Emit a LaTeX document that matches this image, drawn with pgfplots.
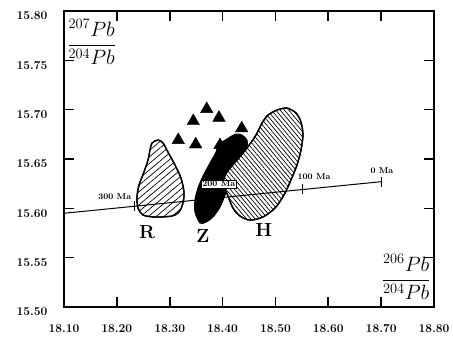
\documentclass[border=0pt]{standalone}
\usepackage{pgfplots}
\pgfplotsset{compat=1.18}
\usetikzlibrary{patterns.meta}
\begin{document}
\begin{tikzpicture}
\begin{axis}[
  scale only axis, width=370pt, height=296pt,
  xmin=18.10, xmax=18.80, ymin=15.50, ymax=15.80,
  xtick={18.1,18.2,18.3,18.4,18.5,18.6,18.7,18.8},
  xticklabels={18.10,18.20,18.30,18.40,18.50,18.60,18.70,18.80},
  ytick={15.50,15.55,15.60,15.65,15.70,15.75,15.80},
  yticklabels={15.50,15.55,15.60,15.65,15.70,15.75,15.80},
  tick align=inside, major tick length=10pt,
  every tick/.append style={black, line width=1.6pt},
  axis line style={line width=1.6pt},
  ticklabel style={font=\bfseries\fontsize{12}{14}\selectfont},
  yticklabel style={xshift=-13pt, yshift=-5pt},
  xticklabel style={yshift=-14pt},
  clip=false,
]
\coordinate (sw) at (rel axis cs:0,0);
% triangles
\addplot[only marks, mark=triangle*, mark size=7.2pt, black] coordinates {
 (18.370,15.7006) (18.3446,15.6884) (18.3932,15.6918) (18.3162,15.6692)
 (18.3491,15.6648) (18.4362,15.6811) (18.3951,15.6641)};
% Z field (solid)
\addplot[draw=black, fill=black, line width=1pt, smooth cycle] coordinates {
 (18.3573,15.5851) (18.3478,15.5963) (18.3478,15.6084) (18.3535,15.6206)
 (18.3630,15.6327) (18.3762,15.6459) (18.3876,15.6570) (18.3932,15.6662)
 (18.4027,15.6682) (18.4140,15.6722) (18.4254,15.6753) (18.4367,15.6743)
 (18.4462,15.6692) (18.4462,15.6621) (18.4386,15.6540) (18.4292,15.6459)
 (18.4197,15.6368) (18.4103,15.6236) (18.4046,15.6135) (18.3951,15.6013)
 (18.3819,15.5912) (18.3686,15.5861)};
% H field
\addplot[draw=black, line width=1.3pt, smooth cycle, preaction={fill=white},
  pattern={Lines[angle=-50,distance=3.3pt,line width=0.7pt]}] coordinates {
 (18.4859,15.6945) (18.5030,15.6996) (18.5219,15.7016) (18.5389,15.6966)
 (18.5484,15.6874) (18.5521,15.6743) (18.5484,15.6591) (18.5408,15.6439)
 (18.5294,15.6287) (18.5162,15.6135) (18.4992,15.6003) (18.4765,15.5912)
 (18.4519,15.5881) (18.4330,15.5922) (18.4197,15.6003) (18.4103,15.6125)
 (18.4008,15.6256) (18.4084,15.6368) (18.4273,15.6489) (18.4462,15.6611)
 (18.4632,15.6743) (18.4746,15.6864)};
% R field
\addplot[draw=black, line width=1.3pt, smooth cycle, preaction={fill=white},
  pattern={Lines[angle=40,distance=5pt,line width=0.7pt]}] coordinates {
 (18.2665,15.6662) (18.2778,15.6692) (18.2873,15.6662) (18.2967,15.6570)
 (18.3100,15.6439) (18.3213,15.6307) (18.3270,15.6165) (18.3251,15.6054)
 (18.3176,15.5963) (18.3043,15.5922) (18.2722,15.5912) (18.2495,15.5932)
 (18.2400,15.6003) (18.2381,15.6114) (18.2419,15.6236) (18.2513,15.6368)
 (18.2589,15.6489) (18.2627,15.6591)};
% growth curve
\addplot[black, line width=1pt] coordinates {(18.10,15.595) (18.70,15.627)};
\addplot[only marks, mark=|, mark size=5pt, black, line width=1pt] coordinates {
 (18.234,15.6021) (18.40,15.611) (18.552,15.6191) (18.70,15.627)};
\node[font=\bfseries\fontsize{8.5}{9}\selectfont] at (axis cs:18.196,15.6114) {300 Ma};
\node[font=\bfseries\fontsize{8.5}{9}\selectfont, draw, fill=white, line width=0.8pt, inner sep=1pt] at (axis cs:18.393,15.6246) {200 Ma};
\node[font=\bfseries\fontsize{8.5}{9}\selectfont] at (axis cs:18.573,15.6317) {100 Ma};
\node[font=\bfseries\fontsize{8.5}{9}\selectfont] at (axis cs:18.7016,15.6378) {0 Ma};
% field letters
\node[font=\bfseries\fontsize{19}{22}\selectfont] at (axis cs:18.257,15.576) {R};
\node[font=\bfseries\fontsize{19}{22}\selectfont] at (axis cs:18.363,15.572) {Z};
\node[font=\bfseries\fontsize{19}{22}\selectfont] at (axis cs:18.478,15.578) {H};
% axis labels
\node[font=\fontsize{20}{24}\selectfont] at (rel axis cs:0.075,0.895) {$\displaystyle\frac{^{207}Pb}{^{204}Pb}$};
\node[font=\fontsize{20}{24}\selectfont] at (rel axis cs:0.925,0.101) {$\displaystyle\frac{^{206}Pb}{^{204}Pb}$};
\end{axis}
\path (sw) ++(-64pt,-34pt) rectangle ++(453pt,341pt);
\end{tikzpicture}
\end{document}
